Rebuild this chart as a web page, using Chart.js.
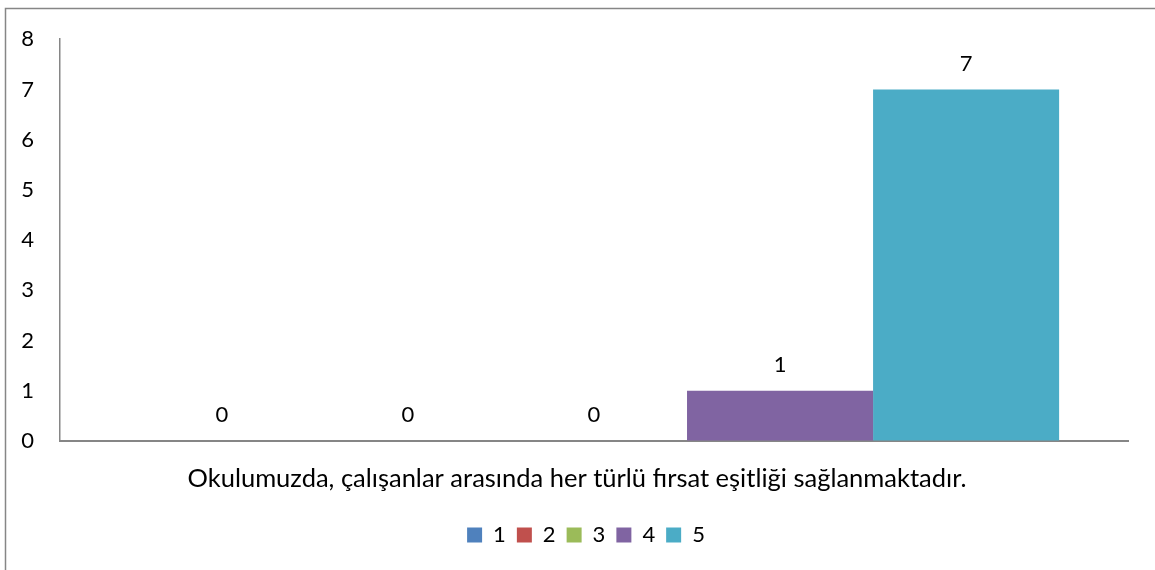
<!DOCTYPE html>
<html><head><meta charset="utf-8">
<script src="https://cdn.jsdelivr.net/npm/chart.js@4/dist/chart.umd.min.js"></script>
<style>html,body{margin:0;padding:0;background:#fff;}#wrap{position:absolute;left:0;top:0;width:1155px;height:570px;}</style>
</head><body><div id="wrap"><canvas id="c" width="1155" height="570"></canvas></div>
<script>
const categories = ["Okulumuzda, çalışanlar arasında her türlü fırsat eşitliği sağlanmaktadır."];
const seriesNames = ["1", "2", "3", "4", "5"];
const seriesValues = [[0], [0], [0], [1], [7]];
const seriesColors = ["#4F81BD", "#C0504D", "#9BBB59", "#8064A2", "#4BACC6"];
const yTicks = [0, 1, 2, 3, 4, 5, 6, 7, 8];

const FONT = "Lato, 'Open Sans', sans-serif";
const AXIS = "#868686";

const frame = {
  id: 'frame',
  beforeDraw(chart) {
    const ctx = chart.ctx;
    ctx.save();
    ctx.fillStyle = '#fff';
    ctx.fillRect(0, 0, chart.width, chart.height);
    ctx.strokeStyle = AXIS;
    ctx.lineWidth = 1.5;
    ctx.strokeRect(5.5, 8.5, 1300, 700);
    ctx.restore();
  }
};
const legendShift = {
  id: 'legendShift',
  afterLayout(chart) {
    if (chart.legend) { chart.legend.left = 44; }
  }
};
const valueLabels = {
  id: 'valueLabels',
  afterDatasetsDraw(chart) {
    const ctx = chart.ctx;
    ctx.save();
    ctx.font = "22px " + FONT;
    ctx.fillStyle = "#000";
    ctx.textAlign = "center";
    ctx.textBaseline = "middle";
    chart.data.datasets.forEach((ds, i) => {
      chart.getDatasetMeta(i).data.forEach((bar, j) => {
        ctx.fillText(String(ds.data[j]), bar.x, bar.y - 26);
      });
    });
    ctx.restore();
  }
};

new Chart(document.getElementById('c'), {
  type: 'bar',
  data: {
    labels: categories,
    datasets: seriesNames.map((n, i) => ({
      label: n,
      data: seriesValues[i],
      backgroundColor: seriesColors[i],
      borderWidth: 0,
      categoryPercentage: 0.871,
      barPercentage: 1.0
    }))
  },
  options: {
    responsive: false,
    animation: false,
    devicePixelRatio: 1,
    layout: { padding: { left: 0, right: 27, top: 38, bottom: 14 } },
    plugins: {
      legend: {
        position: 'bottom',
        labels: {
          boxWidth: 15, boxHeight: 15, padding: 11,
          color: '#000',
          font: { size: 22, family: FONT }
        }
      },
      tooltip: { enabled: false }
    },
    scales: {
      x: {
        grid: { display: true, drawOnChartArea: false, drawTicks: false, color: 'transparent' },
        border: { display: true, color: AXIS, width: 2 },
        ticks: { color: '#000', padding: 22, labelOffset: -17, font: { size: 25.5, family: FONT }, maxRotation: 0 },
        afterFit(s) { s.height = 72; }
      },
      y: {
        min: 0, max: 8,
        afterBuildTicks(s) { s.ticks = yTicks.map(v => ({ value: v })); },
        grid: { display: true, drawOnChartArea: false, drawTicks: false, color: 'transparent' },
        border: { display: true, color: AXIS, width: 1.5 },
        ticks: { color: '#000', padding: 26, font: { size: 22, family: FONT } },
        afterFit(s) { s.width = 60; }
      }
    }
  },
  plugins: [frame, legendShift, valueLabels]
});
</script></body></html>
